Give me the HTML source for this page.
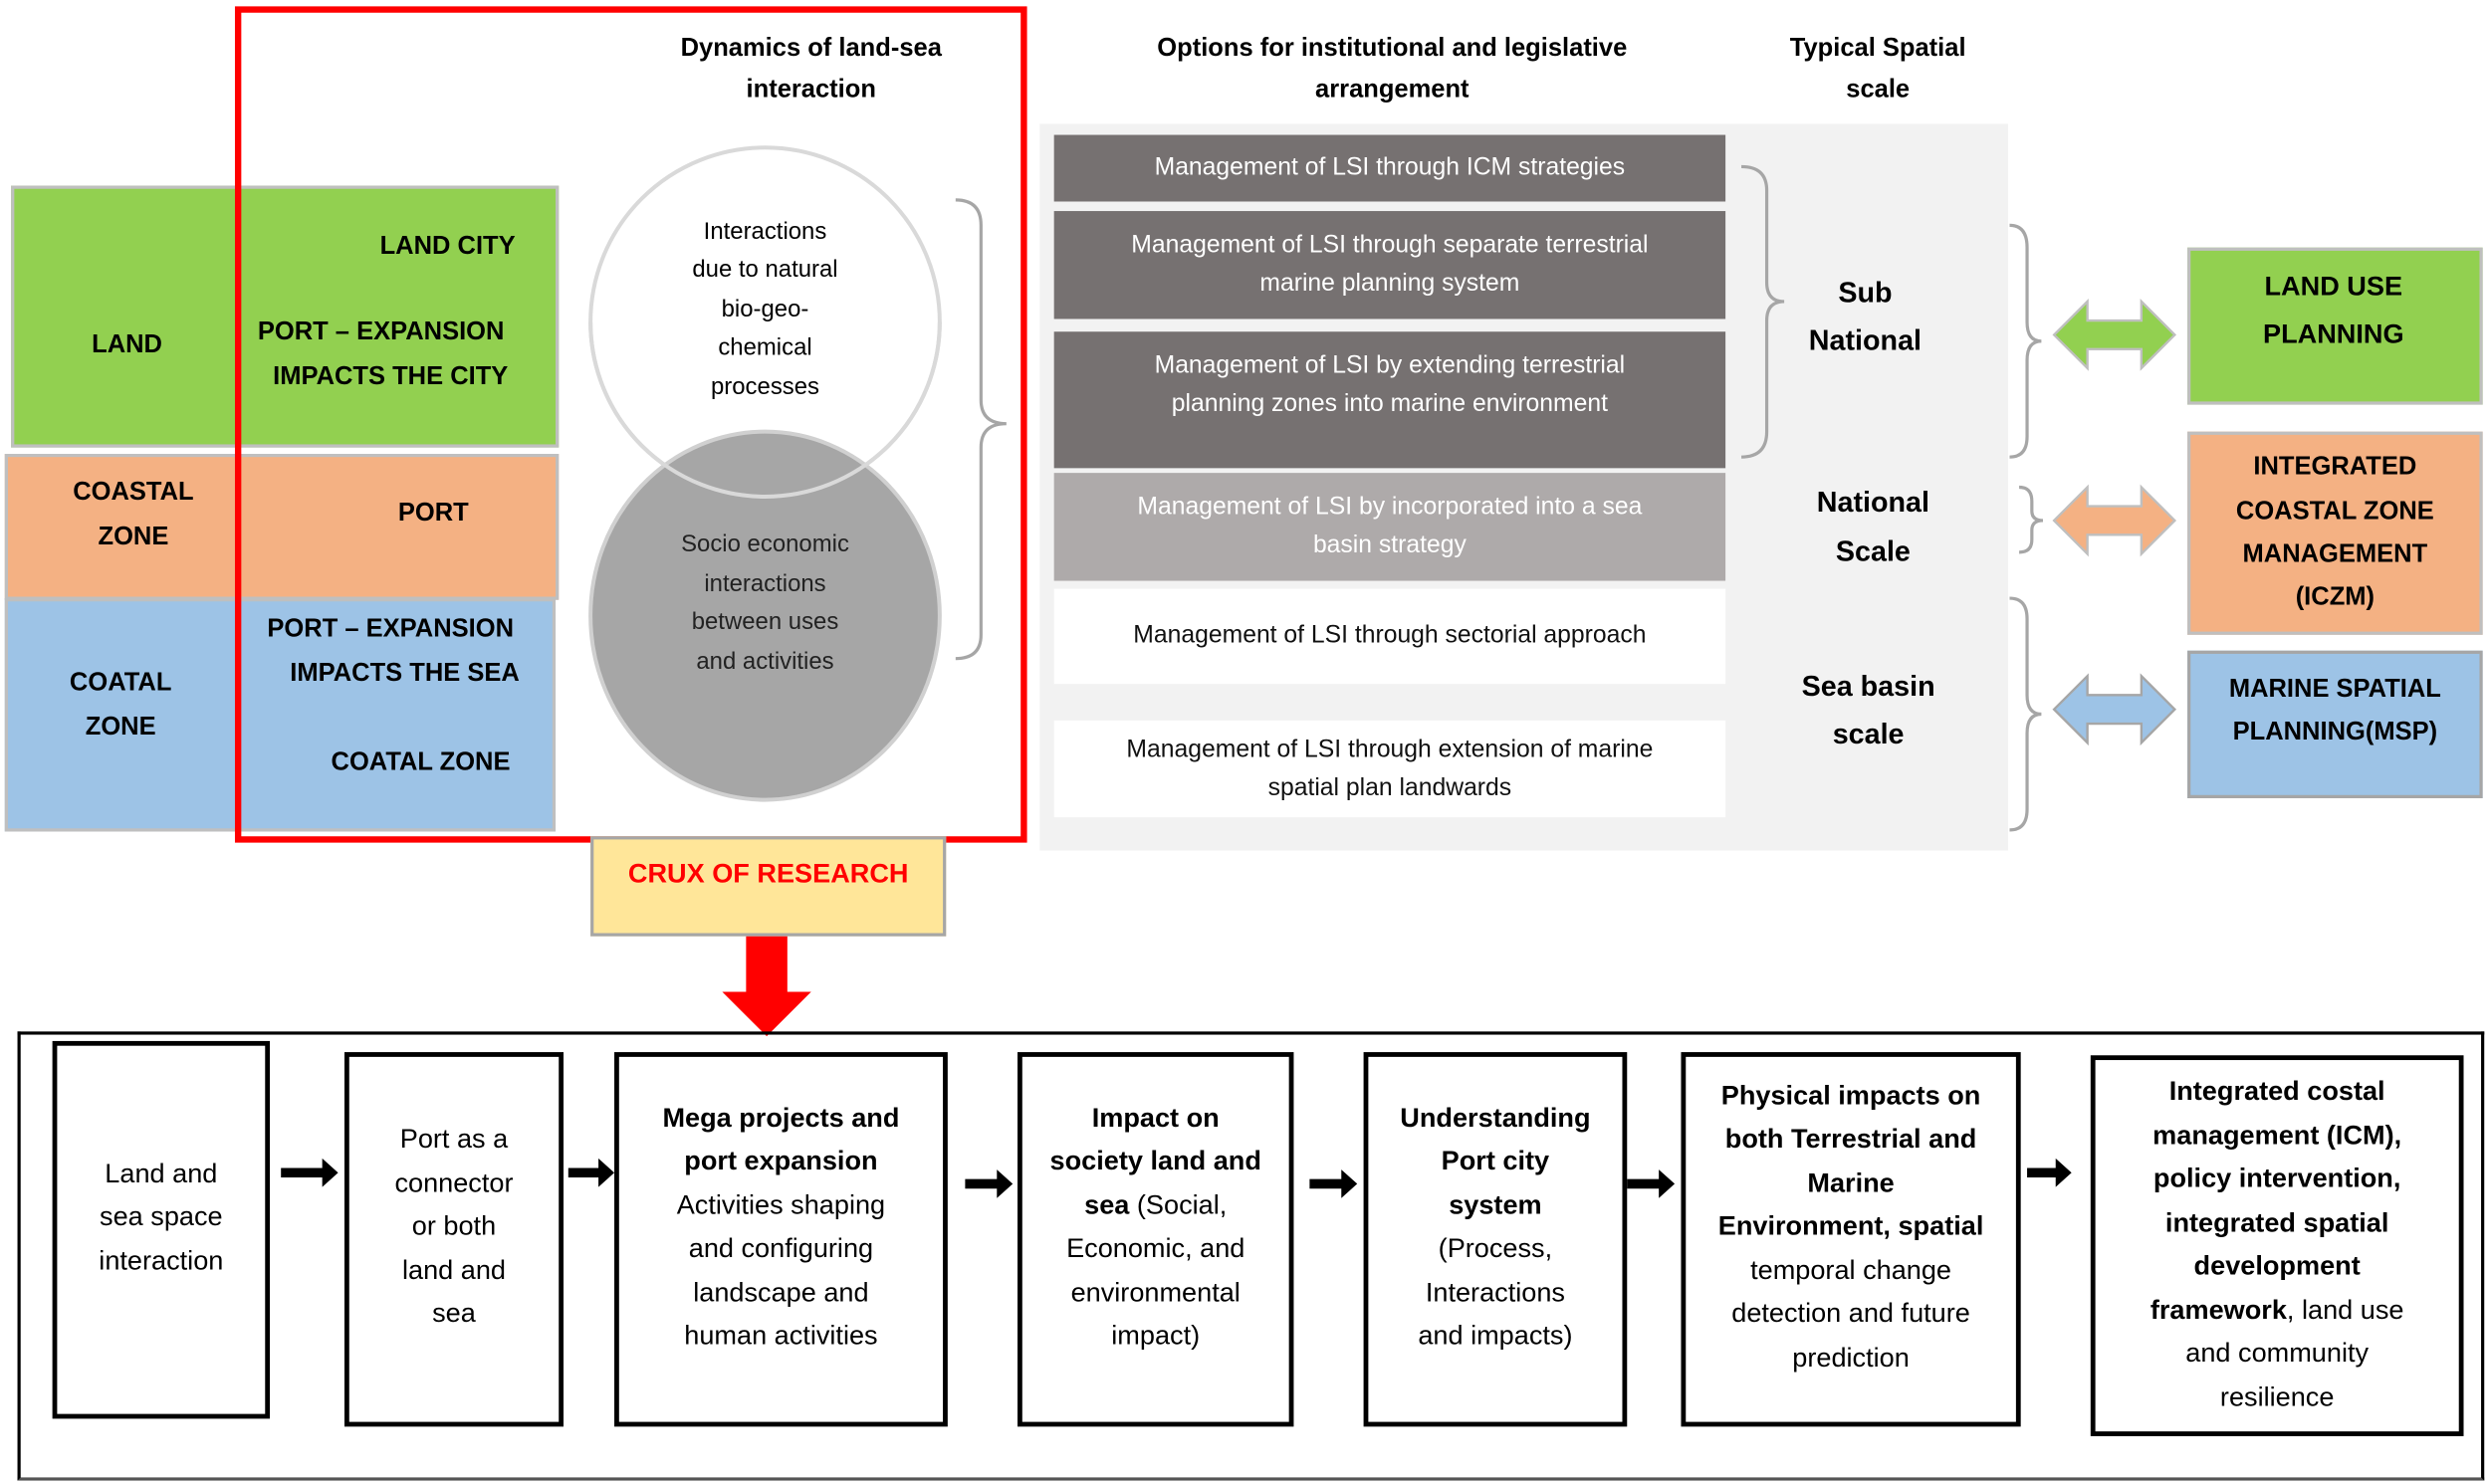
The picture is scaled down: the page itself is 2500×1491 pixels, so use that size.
<!DOCTYPE html>
<html><head><meta charset="utf-8"><style>
html,body{margin:0;padding:0;background:#fff;width:2500px;height:1491px;overflow:hidden}
#s{position:absolute;left:0;top:0;width:1568px;height:935px;transform:scale(1.5944);transform-origin:0 0;font-family:"Liberation Sans",sans-serif;color:#000}
.a{position:absolute;box-sizing:border-box}
.t{position:absolute;white-space:nowrap;transform:translate(-50%,-50%);text-align:center}
.b{font-weight:bold}
.cc{display:flex;align-items:center;justify-content:center;text-align:center}
.mb{position:absolute;left:664px;width:423px;color:#fff;font-size:15.5px;line-height:24px;display:flex;align-items:center;justify-content:center;text-align:center}
.fb{position:absolute;border:3px solid #000;box-sizing:border-box;font-size:17px;line-height:27.5px;display:flex;align-items:center;justify-content:center;text-align:center;padding-bottom:16px}
</style></head><body><div id="s">
<!-- left colored blocks -->
<div class="a" style="left:7px;top:117px;width:345px;height:165px;background:#92d050;border:2px solid #bfbfbf"></div>
<div class="a" style="left:3px;top:286px;width:349px;height:92px;background:#f4b183;border:2px solid #bfbfbf"></div>
<div class="a" style="left:3px;top:377px;width:347px;height:147px;background:#9dc3e6;border:2px solid #bfbfbf"></div>
<div class="t b" style="left:80px;top:218px;font-size:16px">LAND</div>
<div class="t b" style="left:282px;top:156px;font-size:16px">LAND CITY</div>
<div class="t b" style="left:240px;top:210px;font-size:16px">PORT – EXPANSION</div>
<div class="t b" style="left:246px;top:238px;font-size:16px">IMPACTS THE CITY</div>
<div class="t b" style="left:84px;top:311px;font-size:16px">COASTAL</div>
<div class="t b" style="left:84px;top:339px;font-size:16px">ZONE</div>
<div class="t b" style="left:273px;top:324px;font-size:16px">PORT</div>
<div class="t b" style="left:76px;top:431px;font-size:16px">COATAL</div>
<div class="t b" style="left:76px;top:459px;font-size:16px">ZONE</div>
<div class="t b" style="left:246px;top:397px;font-size:16px">PORT – EXPANSION</div>
<div class="t b" style="left:255px;top:425px;font-size:16px">IMPACTS THE SEA</div>
<div class="t b" style="left:265px;top:481px;font-size:16px">COATAL ZONE</div>
<!-- red box -->
<div class="a" style="left:148px;top:4px;width:499px;height:527px;border:4px solid #ff0000"></div>
<div class="t b" style="left:511px;top:31px;font-size:16px">Dynamics of land-sea</div>
<div class="t b" style="left:511px;top:57px;font-size:16px">interaction</div>
<svg class="a" style="left:0;top:0" width="1568" height="935">
<circle cx="482" cy="203" r="110" fill="#fff" stroke="#d9d9d9" stroke-width="2.5"/>
<ellipse cx="482" cy="388" rx="110" ry="116" fill="#a6a6a6" stroke="#d0d0d0" stroke-width="2.5"/>
<path d="M372 203 A110 110 0 0 0 592 203" fill="none" stroke="#d9d9d9" stroke-width="2.5"/>
<g fill="none" stroke="#a6a6a6" stroke-width="2">
<path d="M602 126 Q618 126 618 142 L618 252 Q618 267 634 267 Q618 267 618 282 L618 400 Q618 415 602 415"/>
</g>
</svg>
<div class="t" style="left:482px;top:146px;font-size:15px">Interactions</div>
<div class="t" style="left:482px;top:170px;font-size:15px">due to natural</div>
<div class="t" style="left:482px;top:195px;font-size:15px">bio-geo-</div>
<div class="t" style="left:482px;top:219px;font-size:15px">chemical</div>
<div class="t" style="left:482px;top:244px;font-size:15px">processes</div>
<div class="t" style="left:482px;top:343px;font-size:15px;color:#222">Socio economic</div>
<div class="t" style="left:482px;top:368px;font-size:15px;color:#222">interactions</div>
<div class="t" style="left:482px;top:392px;font-size:15px;color:#222">between uses</div>
<div class="t" style="left:482px;top:417px;font-size:15px;color:#222">and activities</div>
<!-- crux -->
<div class="a cc b" style="left:372px;top:527px;width:224px;height:63px;background:#ffe699;border:2px solid #a6a6a6;color:#ff0000;font-size:17px;align-items:flex-start;padding-top:12px">CRUX OF RESEARCH</div>
<svg class="a" style="left:0;top:0" width="1568" height="935"><polygon points="470,590 496,590 496,625 511,625 483,653 455,625 470,625" fill="#ff0000"/></svg>
<!-- right panel -->
<div class="t b" style="left:877px;top:31px;font-size:16px">Options for institutional and legislative</div>
<div class="t b" style="left:877px;top:57px;font-size:16px">arrangement</div>
<div class="t b" style="left:1183px;top:31px;font-size:16px">Typical Spatial</div>
<div class="t b" style="left:1183px;top:57px;font-size:16px">scale</div>
<div class="a" style="left:655px;top:78px;width:610px;height:458px;background:#f2f2f2"></div>
<div class="mb" style="top:85px;height:42px;background:#767171">Management of LSI through ICM strategies</div>
<div class="mb" style="top:133px;height:68px;background:#767171">Management of LSI through separate terrestrial<br>marine planning system</div>
<div class="mb" style="top:209px;height:86px;background:#767171;align-items:flex-start;padding-top:10px;box-sizing:border-box">Management of LSI by extending terrestrial<br>planning zones into marine environment</div>
<div class="mb" style="top:298px;height:68px;background:#aeaaaa">Management of LSI by incorporated into a sea<br>basin strategy</div>
<div class="mb" style="top:371px;height:60px;background:#fff;color:#111">Management of LSI through sectorial approach</div>
<div class="mb" style="top:454px;height:61px;background:#fff;color:#111">Management of LSI through extension of marine<br>spatial plan landwards</div>
<div class="t b" style="left:1175px;top:185px;font-size:18px">Sub</div>
<div class="t b" style="left:1175px;top:215px;font-size:18px">National</div>
<div class="t b" style="left:1180px;top:317px;font-size:18px">National</div>
<div class="t b" style="left:1180px;top:348px;font-size:18px">Scale</div>
<div class="t b" style="left:1177px;top:433px;font-size:18px">Sea basin</div>
<div class="t b" style="left:1177px;top:463px;font-size:18px">scale</div>
<svg class="a" style="left:0;top:0" width="1568" height="935">
<g fill="none" stroke="#a6a6a6" stroke-width="2">
<path d="M1097 105 Q1113 105 1113 120 L1113 178 Q1113 190 1124 190 Q1113 190 1113 202 L1113 272 Q1113 288 1097 288"/>
<path d="M1266 142 Q1277 142 1277 156 L1277 203 Q1277 215 1286 215 Q1277 215 1277 227 L1277 275 Q1277 288 1266 288"/>
<path d="M1272 307 Q1280 307 1280 316 L1280 322 Q1280 328 1287 328 Q1280 328 1280 334 L1280 340 Q1280 348 1272 348"/>
<path d="M1266 377 Q1277 377 1277 390 L1277 438 Q1277 450 1286 450 Q1277 450 1277 462 L1277 510 Q1277 523 1266 523"/>
</g>
<polygon points="1294,211 1315,190 1315,202 1349,202 1349,190 1370,211 1349,232 1349,220 1315,220 1315,232" fill="#92d050" stroke="#bfbfbf" stroke-width="1.5"/>
<polygon points="1294,328 1315,307 1315,319 1349,319 1349,307 1370,328 1349,349 1349,337 1315,337 1315,349" fill="#f4b183" stroke="#bfbfbf" stroke-width="1.5"/>
<polygon points="1294,447 1315,426 1315,438 1349,438 1349,426 1370,447 1349,468 1349,456 1315,456 1315,468" fill="#9dc3e6" stroke="#a6a6a6" stroke-width="1.5"/>
</svg>
<div class="a" style="left:1378px;top:156px;width:186px;height:99px;background:#92d050;border:2px solid #bfbfbf"></div>
<div class="t b" style="left:1470px;top:181px;font-size:17px">LAND USE</div>
<div class="t b" style="left:1470px;top:211px;font-size:17px">PLANNING</div>
<div class="a" style="left:1378px;top:272px;width:186px;height:128px;background:#f4b183;border:2px solid #bfbfbf"></div>
<div class="t b" style="left:1471px;top:295px;font-size:16px">INTEGRATED</div>
<div class="t b" style="left:1471px;top:323px;font-size:16px">COASTAL ZONE</div>
<div class="t b" style="left:1471px;top:350px;font-size:16px">MANAGEMENT</div>
<div class="t b" style="left:1471px;top:377px;font-size:16px">(ICZM)</div>
<div class="a" style="left:1378px;top:410px;width:186px;height:93px;background:#9dc3e6;border:2px solid #a6a6a6"></div>
<div class="t b" style="left:1471px;top:435px;font-size:16px">MARINE SPATIAL</div>
<div class="t b" style="left:1471px;top:462px;font-size:16px">PLANNING(MSP)</div>
<!-- bottom flow -->
<div class="a" style="left:11px;top:650px;width:1554px;height:283px;border:2px solid #000;border-bottom-color:#555"></div>
<div class="fb" style="left:33px;top:656px;width:137px;height:238px">Land and<br>sea space<br>interaction</div>
<div class="fb" style="left:217px;top:663px;width:138px;height:236px">Port as a<br>connector<br>or both<br>land and<br>sea</div>
<div class="fb" style="left:387px;top:663px;width:210px;height:236px"><div><b>Mega projects and<br>port expansion</b><br>Activities shaping<br>and configuring<br>landscape and<br>human activities</div></div>
<div class="fb" style="left:641px;top:663px;width:174px;height:236px"><div><b>Impact on<br>society land and<br>sea</b> (Social,<br>Economic, and<br>environmental<br>impact)</div></div>
<div class="fb" style="left:859px;top:663px;width:166px;height:236px"><div><b>Understanding<br>Port city<br>system</b><br>(Process,<br>Interactions<br>and impacts)</div></div>
<div class="fb" style="left:1059px;top:663px;width:214px;height:236px"><div><b>Physical impacts on<br>both Terrestrial and<br>Marine<br>Environment, spatial</b><br>temporal change<br>detection and future<br>prediction</div></div>
<div class="fb" style="left:1317px;top:665px;width:235px;height:240px;padding-bottom:2px"><div><b>Integrated costal<br>management (ICM),<br>policy intervention,<br>integrated spatial<br>development<br>framework</b>, land use<br>and community<br>resilience</div></div>
<svg class="a" style="left:0;top:0" width="1568" height="935" fill="#000">
<polygon points="177,736 203,736 203,730 213,739 203,748 203,742 177,742"/>
<polygon points="358,736 377,736 377,730 387,739 377,748 377,742 358,742"/>
<polygon points="608,743 628,743 628,737 638,746 628,755 628,749 608,749"/>
<polygon points="825,743 845,743 845,737 855,746 845,755 845,749 825,749"/>
<polygon points="1025,743 1045,743 1045,737 1055,746 1045,755 1045,749 1025,749"/>
<polygon points="1277,736 1295,736 1295,730 1305,739 1295,748 1295,742 1277,742"/>
</svg>
</div></body></html>
